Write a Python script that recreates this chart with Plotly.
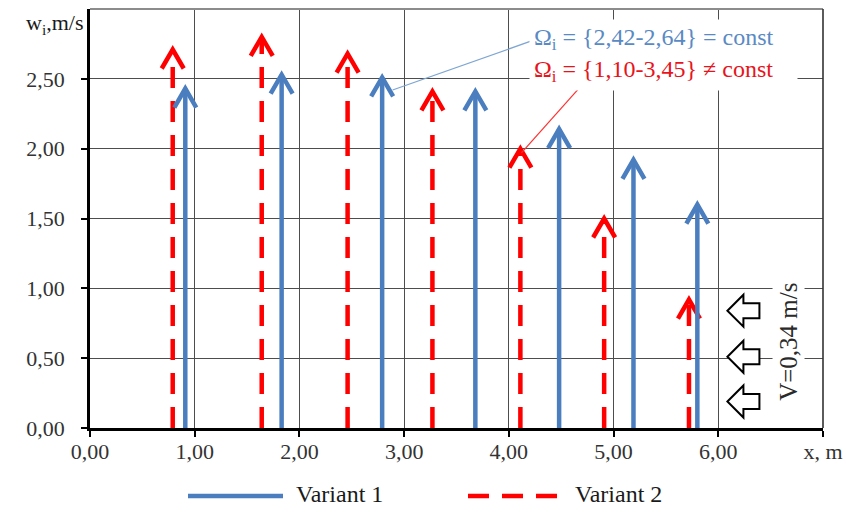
import plotly.graph_objects as go

# ---- data ----
x_v1 = [0.91, 1.83, 2.79, 3.68, 4.48, 5.19, 5.80]
w_v1 = [2.43, 2.53, 2.51, 2.41, 2.14, 1.92, 1.60]
x_v2 = [0.79, 1.64, 2.46, 3.27, 4.11, 4.91, 5.72]
w_v2 = [2.71, 2.80, 2.68, 2.41, 2.00, 1.50, 0.92]

x_tickvals = [0, 1, 2, 3, 4, 5, 6, 7]
x_ticktext = ["0,00", "1,00", "2,00", "3,00", "4,00", "5,00", "6,00", "x, m"]
y_tickvals = [0, 0.5, 1.0, 1.5, 2.0, 2.5]
y_ticktext = ["0,00", "0,50", "1,00", "1,50", "2,00", "2,50"]

names = ["Variant 1", "Variant 2"]
note_v1 = "Ω<sub>i</sub> = {2,42-2,64} = const"
note_v2 = "Ω<sub>i</sub> = {1,10-3,45} ≠ const"
flow_text = "V=0,34 m/s"

# ---- styling ----
BLUE = "#4a7ebf"
RED = "#ff0000"
FONT = '"Liberation Serif", "Times New Roman", serif'
W, H = 846, 512
ML, MR, MT, MB = 90, 23, 9, 84
XR = [0, 7]
YR = [0, 3]
PXX = (W - ML - MR) / (XR[1] - XR[0])   # pixels per x unit
PXY = (H - MT - MB) / (YR[1] - YR[0])   # pixels per y unit
HDX = 11 / PXX
HDY = 19 / PXY


def arrow_paths(xs, ws):
    sx, sy, hx, hy = [], [], [], []
    for x, w in zip(xs, ws):
        sx += [x, x, None]
        sy += [0, w, None]
        hx += [x - HDX, x, x + HDX, None]
        hy += [w - HDY, w, w - HDY, None]
    return sx, sy, hx, hy


fig = go.Figure()

s1x, s1y, h1x, h1y = arrow_paths(x_v1, w_v1)
s2x, s2y, h2x, h2y = arrow_paths(x_v2, w_v2)

fig.add_trace(go.Scatter(x=s2x, y=s2y, mode="lines", name=names[1], showlegend=False,
                         line=dict(color=RED, width=4.5, dash="21px,13px"), hoverinfo="skip"))
fig.add_trace(go.Scatter(x=h2x, y=h2y, mode="lines", showlegend=False,
                         line=dict(color=RED, width=4.5), hoverinfo="skip"))
fig.add_trace(go.Scatter(x=s1x, y=s1y, mode="lines", name=names[0], showlegend=False,
                         line=dict(color=BLUE, width=4.5), hoverinfo="skip"))
fig.add_trace(go.Scatter(x=h1x, y=h1y, mode="lines", showlegend=False,
                         line=dict(color=BLUE, width=4.5), hoverinfo="skip"))

shapes = []
annotations = []

# leader lines for the notes
shapes.append(dict(type="line", xref="x", yref="y", x0=2.89, y0=2.42, x1=4.25, y1=2.78,
                   line=dict(color="#7ea6d3", width=1.3), layer="above"))
shapes.append(dict(type="line", xref="x", yref="y", x0=4.12, y0=1.97, x1=4.75, y1=2.50,
                   line=dict(color="#ff3030", width=1.2), layer="above"))

# hollow flow arrows (pointing left)
flow_cx = 6.24
flow_cy = [0.84, 0.51, 0.19]
pts = [(-16, 0), (0, 16), (0, 7.5), (16, 7.5), (16, -7.5), (0, -7.5), (0, -16)]
for cy in flow_cy:
    path = "M " + " L ".join(f"{flow_cx + dx / PXX:.4f},{cy + dy / PXY:.4f}" for dx, dy in pts) + " Z"
    shapes.append(dict(type="path", xref="x", yref="y", path=path,
                       fillcolor="white", line=dict(color="black", width=2), layer="above"))

# top and right frame
shapes.append(dict(type="line", xref="paper", yref="paper", x0=0, x1=1, y0=1, y1=1,
                   line=dict(color="#8c8c8c", width=2)))
shapes.append(dict(type="line", xref="paper", yref="paper", x0=1, x1=1, y0=0, y1=1,
                   line=dict(color="#333333", width=1.6)))


def px_to_paper_x(p):
    return (p - ML) / (W - ML - MR)


def px_to_paper_y(q):
    return (H - MB - q) / (H - MT - MB)


# manual legend
ly = px_to_paper_y(496)
shapes.append(dict(type="line", xref="paper", yref="paper", x0=px_to_paper_x(188), x1=px_to_paper_x(283),
                   y0=ly, y1=ly, line=dict(color=BLUE, width=4.5)))
shapes.append(dict(type="line", xref="paper", yref="paper", x0=px_to_paper_x(468), x1=px_to_paper_x(558),
                   y0=ly, y1=ly, line=dict(color=RED, width=4.5, dash="21px,13px")))
annotations.append(dict(xref="paper", yref="paper", x=px_to_paper_x(294), y=px_to_paper_y(494),
                        xanchor="left", yanchor="middle", text=names[0], showarrow=False,
                        font=dict(family=FONT, size=24, color="#1a1a1a")))
annotations.append(dict(xref="paper", yref="paper", x=px_to_paper_x(573), y=px_to_paper_y(494),
                        xanchor="left", yanchor="middle", text=names[1], showarrow=False,
                        font=dict(family=FONT, size=24, color="#1a1a1a")))

# notes box
annotations.append(dict(xref="x", yref="y", x=5.48, y=2.672, xanchor="center", yanchor="middle",
                        text=f"<span style='color:#5a8ac4'>{note_v1}</span><br>"
                             f"<span style='color:#e8141c'>{note_v2}</span>",
                        align="left", showarrow=False, bgcolor="white", width=259, height=62, borderpad=4,
                        font=dict(family=FONT, size=24)))

# flow speed label
annotations.append(dict(xref="x", yref="y", x=6.67, y=0.62, text=flow_text, textangle=-90,
                        showarrow=False, bgcolor="white", borderpad=2,
                        font=dict(family=FONT, size=25, color="#2a2a2a")))

# y-axis title
annotations.append(dict(xref="paper", yref="paper", x=px_to_paper_x(24), y=px_to_paper_y(24),
                        xanchor="left", yanchor="middle", text="w<sub>i</sub>,m/s", showarrow=False,
                        font=dict(family=FONT, size=22, color="#1a1a1a")))

fig.update_layout(
    width=W, height=H,
    margin=dict(l=ML, r=MR, t=MT, b=MB, autoexpand=False),
    plot_bgcolor="white", paper_bgcolor="white",
    showlegend=False,
    shapes=shapes, annotations=annotations,
    font=dict(family=FONT, size=22, color="#333333"),
)
fig.update_xaxes(range=XR, tickvals=x_tickvals, ticktext=x_ticktext, automargin=False,
                 showgrid=True, gridcolor="#4d4d4d", gridwidth=1.2,
                 showline=True, linecolor="black", linewidth=2.5,
                 ticks="outside", ticklen=6, tickwidth=2, tickcolor="black",
                 ticklabelstandoff=-4, zeroline=False,
                 tickfont=dict(family=FONT, size=22, color="#333333"))
fig.update_yaxes(range=YR, tickvals=y_tickvals, ticktext=y_ticktext, automargin=False,
                 showgrid=True, gridcolor="#4d4d4d", gridwidth=1.2,
                 showline=True, linecolor="black", linewidth=2.5,
                 ticks="outside", ticklen=6, tickwidth=2, tickcolor="black",
                 ticklabelstandoff=12, zeroline=False,
                 tickfont=dict(family=FONT, size=22, color="#333333"))

fig.write_html("out.html", config={"displayModeBar": False},
               post_script="document.body.style.margin='0';")
